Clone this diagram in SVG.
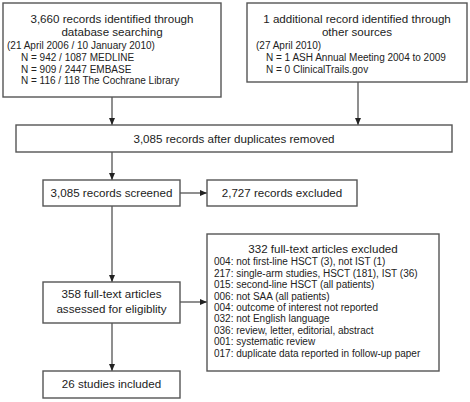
<svg xmlns="http://www.w3.org/2000/svg" width="470" height="402" viewBox="0 0 470 402">
<style>
.box{fill:#fff;stroke:#555;stroke-width:1.4}
.t{font-family:"Liberation Sans",Arial,sans-serif;font-size:11.6px;fill:#222}
.s{font-family:"Liberation Sans",Arial,sans-serif;font-size:10px;fill:#222}
.c{text-anchor:middle}
.ln{stroke:#333;stroke-width:1.1;fill:none;marker-end:url(#ah)}
</style>
<defs>
<marker id="ah" markerWidth="8" markerHeight="8" refX="7" refY="4" orient="auto" markerUnits="userSpaceOnUse">
<path d="M0,1 L7,4 L0,7 Z" fill="#222"/>
</marker>
</defs>
<rect width="470" height="402" fill="#fff"/>
<g id="connectors">
<line class="ln" x1="112" y1="97" x2="112" y2="125"/>
<line class="ln" x1="358" y1="82" x2="358" y2="125"/>
<line class="ln" x1="112" y1="152" x2="112" y2="180"/>
<line class="ln" x1="180" y1="193" x2="207" y2="193"/>
<line class="ln" x1="112" y1="206" x2="112" y2="282"/>
<line class="ln" x1="180" y1="302" x2="207" y2="302"/>
<line class="ln" x1="112" y1="323" x2="112" y2="371"/>
</g>
<g id="n1">
<rect class="box" x="3" y="3" width="218" height="94"/>
<text class="t c" x="112" y="23">3,660 records identified through</text>
<text class="t c" x="112" y="36">database searching</text>
<text class="s" x="7" y="49">(21 April 2006 / 10 January 2010)</text>
<text class="s" x="21" y="61">N = 942 / 1087 MEDLINE</text>
<text class="s" x="21" y="72.5">N = 909 / 2447 EMBASE</text>
<text class="s" x="21" y="84">N = 116 / 118 The Cochrane Library</text>
</g>
<g id="n2">
<rect class="box" x="247" y="3" width="220" height="79"/>
<text class="t c" x="357" y="23">1 additional record identified through</text>
<text class="t c" x="357" y="36">other sources</text>
<text class="s" x="256" y="49">(27 April 2010)</text>
<text class="s" x="266" y="61">N = 1 ASH Annual Meeting 2004 to 2009</text>
<text class="s" x="266" y="72.5">N = 0 ClinicalTrails.gov</text>
</g>
<g id="n3">
<rect class="box" x="16" y="125" width="436" height="27"/>
<text class="t c" x="234" y="142.5">3,085 records after duplicates removed</text>
</g>
<g id="n4">
<rect class="box" x="43" y="180" width="137" height="26"/>
<text class="t c" x="111.5" y="197">3,085 records screened</text>
</g>
<g id="n5">
<rect class="box" x="207" y="180" width="150" height="26"/>
<text class="t c" x="282" y="197">2,727 records excluded</text>
</g>
<g id="n6">
<rect class="box" x="43" y="282" width="137" height="41"/>
<text class="t c" x="111.5" y="298">358 full-text articles</text>
<text class="t c" x="111.5" y="313">assessed for eligiblity</text>
</g>
<g id="n7">
<rect class="box" x="207" y="234" width="232" height="137"/>
<text class="t c" x="323" y="253">332 full-text articles excluded</text>
<text class="s" x="214" y="265">004: not first-line HSCT (3), not IST (1)</text>
<text class="s" x="214" y="276.5">217: single-arm studies, HSCT (181), IST (36)</text>
<text class="s" x="214" y="288">015: second-line HSCT (all patients)</text>
<text class="s" x="214" y="299.5">006: not SAA (all patients)</text>
<text class="s" x="214" y="311">004: outcome of interest not reported</text>
<text class="s" x="214" y="322">032: not English language</text>
<text class="s" x="214" y="333.5">036: review, letter, editorial, abstract</text>
<text class="s" x="214" y="345">001: systematic review</text>
<text class="s" x="214" y="356.5">017: duplicate data reported in follow-up paper</text>
</g>
<g id="n8">
<rect class="box" x="43" y="371" width="137" height="27"/>
<text class="t c" x="111.5" y="388">26 studies included</text>
</g>
</svg>
